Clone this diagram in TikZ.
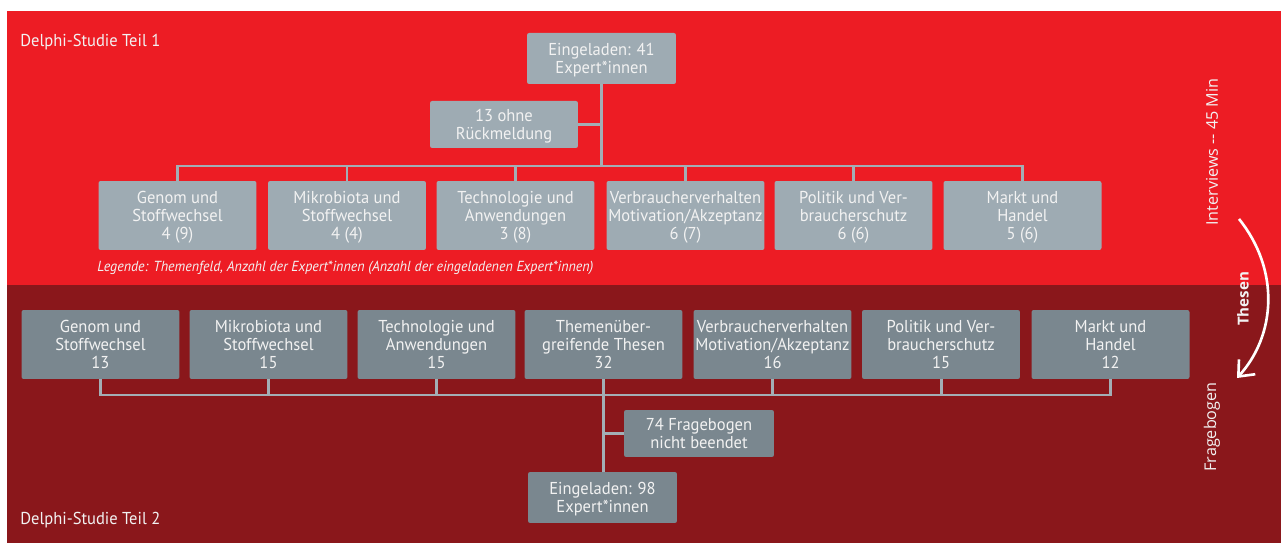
\documentclass[tikz,border=0pt]{standalone}
\usepackage{fontspec}
\setmainfont[FakeStretch=0.96]{PT Sans}
\newfontfamily\sidefont{Open Sans}
\usetikzlibrary{arrows.meta}
\definecolor{teilred}{HTML}{ED1C24}
\definecolor{teildark}{HTML}{8A171B}
\definecolor{boxlight}{HTML}{9EABB3}
\definecolor{boxdark}{HTML}{7A878F}
\definecolor{linegray}{HTML}{A3AEB5}
\definecolor{softwhite}{HTML}{F2F2F2}
\begin{document}
\begin{tikzpicture}[x=0.02cm, y=-0.02cm,
	every node/.style={font=\fontsize{9.8}{10.2}\selectfont, text=softwhite, align=center, inner sep=0pt},
	box/.style={rounded corners=1.2pt, minimum width=3.16cm, minimum height=1.38cm, text depth=0pt},
	topbox/.style={box, fill=boxlight},
	lowbox/.style={box, fill=boxdark},
	sumbox/.style={rounded corners=1.2pt, minimum width=2.98cm, minimum height=1.02cm, text depth=0pt},
	conn/.style={draw=linegray, line width=1.7pt},
	side/.style={rotate=90, font=\sidefont\fontsize{9.2}{10}\selectfont}]
	\useasboundingbox (0,0) rectangle (1284,543);
	\fill[teilred] (7,11) rectangle (1281,285);
	\fill[teildark] (7,285) rectangle (1281,543);
	\node[anchor=west] (teil1) at (20,42) {Delphi-Studie Teil 1};
	\node[anchor=west] (teil2) at (20,520) {Delphi-Studie Teil 2};
	% Teil 1
	\node[sumbox, fill=boxlight] (ein1) at (601.5,58.5) {Eingeladen: 41\\Expert*innen};
	\node[sumbox, fill=boxlight, minimum width=2.96cm, minimum height=0.94cm] (ohne) at (504,124.5) {13 ohne\\Rückmeldung};
	\coordinate (bar1) at (601.5,166);
	\node[topbox] (t1) at (177.5,215.5) {Genom und\\Stoffwechsel\\4 (9)};
	\node[topbox] (t2) at (347,215.5) {Mikrobiota und\\Stoffwechsel\\4 (4)};
	\node[topbox] (t3) at (515.5,215.5) {Technologie und\\Anwendungen\\3 (8)};
	\node[topbox] (t4) at (685.5,215.5) {Verbraucherverhalten\\Motivation/Akzeptanz\\6 (7)};
	\node[topbox] (t5) at (853.5,215.5) {Politik und Ver-\\braucherschutz\\6 (6)};
	\node[topbox] (t6) at (1022.5,215.5) {Markt und\\Handel\\5 (6)};
	\node[anchor=west, font=\itshape\fontsize{8.3}{9}\selectfont] (leg) at (97,268) {Legende: Themenfeld, Anzahl der Expert*innen (Anzahl der eingeladenen Expert*innen)};
	\draw[conn] (ein1.south) -- (bar1);
	\draw[conn] (ohne.east) -- (ohne.east -| ein1.south);
	\foreach \n in {t1,t2,t3,t4,t5,t6}
		\draw[conn] (\n.north) |- (bar1);
	% Teil 2
	\node[lowbox] (s1) at (100.5,344.5) {Genom und\\Stoffwechsel\\13};
	\node[lowbox] (s2) at (268.5,344.5) {Mikrobiota und\\Stoffwechsel\\15};
	\node[lowbox] (s3) at (436.5,344.5) {Technologie und\\Anwendungen\\15};
	\node[lowbox] (s4) at (603.5,344.5) {Themenüber-\\greifende Thesen\\32};
	\node[lowbox] (s5) at (772.5,344.5) {Verbraucherverhalten\\Motivation/Akzeptanz\\16};
	\node[lowbox] (s6) at (941,344.5) {Politik und Ver-\\braucherschutz\\15};
	\node[lowbox] (s7) at (1110.5,344.5) {Markt und\\Handel\\12};
	\coordinate (bar2) at (603.5,395);
	\node[sumbox, fill=boxdark, minimum width=3cm, minimum height=0.94cm] (nicht) at (699,433.5) {74 Fragebogen\\nicht beendet};
	\node[sumbox, fill=boxdark] (ein2) at (602.5,497.5) {Eingeladen: 98\\Expert*innen};
	\foreach \n in {s1,s2,s3,s5,s6,s7}
		\draw[conn] (\n.south) |- (bar2);
	\draw[conn] (s4.south) -- (s4.south |- ein2.north);
	\draw[conn] (nicht.west) -- (nicht.west -| s4.south);
	% Ablauf rechts
	\node[side] (interv) at (1212,152) {Interviews -- 45 Min};
	\node[side] (frage) at (1212,427) {Fragebogen};
	\node[side, font=\sidefont\bfseries\fontsize{8.6}{10}\selectfont] (thesen) at (1243,299) {Thesen};
	\coordinate (von) at (1239,219);
	\coordinate (nach) at (1237,378);
	\draw[white, line width=1.5pt, -{Straight Barb[length=2.6mm, width=4.4mm]}] (von) .. controls (1280,270) and (1276,335) .. (nach);
\end{tikzpicture}
\end{document}
